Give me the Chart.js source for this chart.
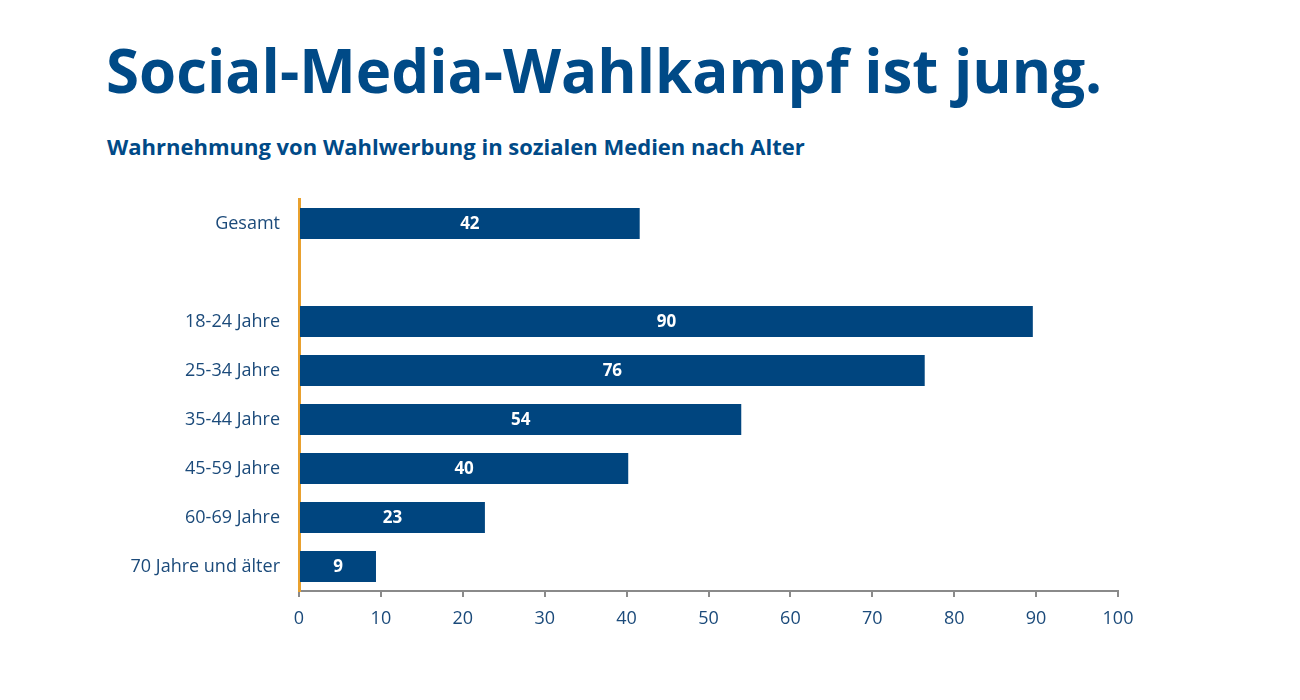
<!DOCTYPE html>
<html lang="de">
<head>
<meta charset="utf-8">
<title>Social-Media-Wahlkampf ist jung.</title>
<script src="https://cdn.jsdelivr.net/npm/chart.js@4/dist/chart.umd.min.js"></script>
<style>
  html, body { margin: 0; padding: 0; background: #fff; }
  body { width: 1300px; height: 700px; position: relative; overflow: hidden; font-family: "Open Sans", sans-serif; }
  h1 { position: absolute; left: 106px; top: 40px; margin: 0; font-size: 60px; line-height: 1; font-weight: 700; color: #004a87; }
  h2 { position: absolute; left: 107px; top: 135px; margin: 0; font-size: 22px; line-height: 1; font-weight: 700; color: #004a87; }
  #wrap { position: absolute; left: 0; top: 0; width: 1300px; height: 700px; }
</style>
</head>
<body>
<h1>Social-Media-Wahlkampf ist jung.</h1>
<h2>Wahrnehmung von Wahlwerbung in sozialen Medien nach Alter</h2>
<div id="wrap"><canvas id="chart"></canvas></div>
<script>
// categories (empty one is the gap after "Gesamt")
const categories = ['Gesamt', '', '18-24 Jahre', '25-34 Jahre', '35-44 Jahre', '45-59 Jahre', '60-69 Jahre', '70 Jahre und älter'];
// share in percent
const values = [41.6, null, 89.6, 76.4, 54.0, 40.2, 22.7, 9.4];
// x axis ticks
const xTicks = [0, 10, 20, 30, 40, 50, 60, 70, 80, 90, 100];

const blue = '#00457f';
const textBlue = '#1b4a7a';

// writes the rounded value in the middle of each bar
const barLabels = {
    id: 'barLabels',
    afterDatasetsDraw(chart) {
        const ctx = chart.ctx;
        const meta = chart.getDatasetMeta(0);
        ctx.save();
        ctx.font = 'bold 17px "Open Sans"';
        ctx.fillStyle = '#fff';
        ctx.textAlign = 'center';
        ctx.textBaseline = 'middle';
        meta.data.forEach((bar, i) => {
            const v = values[i];
            if (v === null) return;
            ctx.fillText(Math.round(v), (bar.x + bar.base) / 2, bar.y + 1);
        });
        ctx.restore();
    }
};

const ctx = document.getElementById('chart').getContext('2d');
const chart = new Chart(ctx, {
    type: 'bar',
    data: {
        labels: categories,
        datasets: [{
            data: values,
            backgroundColor: blue,
            borderWidth: 0,
            categoryPercentage: 1,
            barPercentage: 0.63
        }]
    },
    options: {
        indexAxis: 'y',
        responsive: true,
        maintainAspectRatio: false,
        animation: false,
        layout: { padding: { left: 0, right: 182, top: 199, bottom: 59 } },
        plugins: {
            legend: { display: false },
            tooltip: { enabled: false }
        },
        scales: {
            x: {
                min: 0,
                max: 100,
                afterBuildTicks: (axis) => { axis.ticks = xTicks.map(v => ({ value: v })); },
                afterFit: (axis) => { axis.height = 50; },
                grid: { drawOnChartArea: false, drawTicks: true, tickLength: 6, color: '#8a8a8a', lineWidth: 2 },
                border: { color: '#8a8a8a', width: 2 },
                ticks: { color: textBlue, font: { family: 'Open Sans', size: 18 }, padding: 11 }
            },
            y: {
                afterFit: (axis) => { axis.width = 299; },
                grid: { display: false, drawTicks: false },
                border: { color: '#e9a12f', width: 3 },
                ticks: { color: textBlue, font: { family: 'Open Sans', size: 18 }, padding: 19 }
            }
        }
    },
    plugins: [barLabels]
});
</script>
</body>
</html>
